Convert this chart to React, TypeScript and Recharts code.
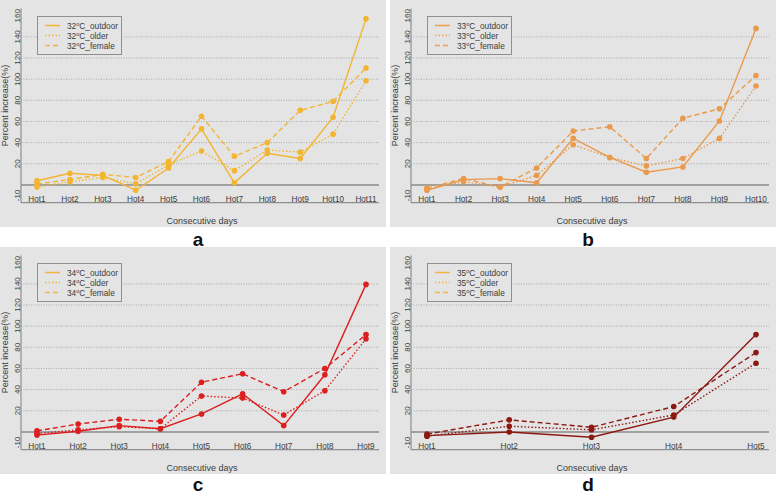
import React from 'react';
import { LineChart, Line, XAxis, YAxis, ReferenceLine, Legend } from 'recharts';

// ---------- data ----------
const daysA = ['Hot1', 'Hot2', 'Hot3', 'Hot4', 'Hot5', 'Hot6', 'Hot7', 'Hot8', 'Hot9', 'Hot10', 'Hot11'];
const outdoorA = [4, 11, 9, -5, 16, 53, 2, 30, 25, 64, 157];
const olderA = [-2, 3, 7, 1, 19, 32, 13.5, 33, 31, 48, 98.5];
const femaleA = [1, 5, 10, 7, 22, 65, 27, 40, 70.5, 79, 110.5];

const daysB = ['Hot1', 'Hot2', 'Hot3', 'Hot4', 'Hot5', 'Hot6', 'Hot7', 'Hot8', 'Hot9', 'Hot10'];
const outdoorB = [-5, 5, 6, 2, 44, 26, 12, 17, 60.5, 148];
const olderB = [-4, 3, -2, 9, 38, 26, 18, 25, 44, 93.5];
const femaleB = [-3, 6, -2, 16, 51, 55, 25, 63, 72, 103.5];

const daysC = ['Hot1', 'Hot2', 'Hot3', 'Hot4', 'Hot5', 'Hot6', 'Hot7', 'Hot8', 'Hot9'];
const outdoorC = [-3, 0.6, 6, 3, 17, 36, 6, 54, 139.5];
const olderC = [-1.5, 2, 5, 3, 34, 32, 16, 39, 88];
const femaleC = [1, 7.5, 12, 10, 47, 55, 38, 60, 92];

const daysD = ['Hot1', 'Hot2', 'Hot3', 'Hot4', 'Hot5'];
const outdoorD = [-3.5, 0, -5, 14, 92];
const olderD = [-4, 5.4, 2, 16, 65];
const femaleD = [-2, 11.4, 4.4, 24, 75];

const yTicks = [-10, 20, 40, 60, 80, 100, 120, 140, 160];
const gridValues = [20, 40, 60, 80, 100, 120, 140];
const yDomain = [-16.8, 166.8];
const seriesNames = ['outdoor', 'older', 'female'];
const xTitle = 'Consecutive days';
const yTitle = 'Percent increase(%)';

// ---------- styles ----------
const BG = '#e4e4e4';
const BOX = '#8f8f8f';
const TXT = '#3c3c3c';
const FONT = '"Liberation Sans", Arial, Helvetica, sans-serif';
const dashes: Record<string, string | undefined> = { outdoor: undefined, older: '1.5 2', female: '5 3' };

const PW = 386;
const PH = 227;

const XTick = (props: any) => {
  const { x, y, payload } = props;
  return (
    <text x={x} y={y - 0.5} textAnchor="middle" fontSize={8.2} fill={TXT} fontFamily={FONT}>
      {payload.value}
    </text>
  );
};

const YTick = (props: any) => {
  const { x, y, payload } = props;
  const bx = x - 0.5;
  return (
    <text x={bx} y={y} transform={`rotate(-90 ${bx} ${y})`} textAnchor="middle" fontSize={8} fill={TXT} fontFamily={FONT}>
      {payload.value}
    </text>
  );
};

const XTitle = (props: any) => {
  const vb = props.viewBox || { x: 21, y: 202.7, width: 358, height: 24.3 };
  return (
    <text x={vb.x + vb.width / 2 + 2} y={vb.y + 21.5} textAnchor="middle" fontSize={9} fill={TXT} fontFamily={FONT}>
      {xTitle}
    </text>
  );
};

const YTitle = (props: any) => {
  const vb = props.viewBox || { x: 0, y: 8.5, width: 21, height: 194.2 };
  const bx = vb.x + 8.5;
  const cy = vb.y + vb.height / 2;
  return (
    <text x={bx} y={cy} transform={`rotate(-90 ${bx} ${cy})`} textAnchor="middle" fontSize={9} fill={TXT} fontFamily={FONT}>
      {yTitle}
    </text>
  );
};

const LegendBox = ({ temp, color }: { temp: string; color: string }) => (
  <svg width={85} height={39} style={{ display: 'block' }}>
    <rect x={0.5} y={0.5} width={84} height={38} fill={BG} stroke={BOX} strokeWidth={1} />
    {seriesNames.map((s, i) => (
      <g key={s}>
        <line x1={8} x2={23} y1={9.5 + i * 10} y2={9.5 + i * 10} stroke={color} strokeWidth={1.5} strokeDasharray={dashes[s]} />
        <text x={30} y={12.5 + i * 10} fontSize={8.3} fill={TXT} fontFamily={FONT}>
          {temp}
          <tspan dy={-3} fontSize={5.5}>o</tspan>
          <tspan dy={3}>{'C_' + s}</tspan>
        </text>
      </g>
    ))}
  </svg>
);

type PanelProps = {
  days: string[];
  outdoor: number[];
  older: number[];
  female: number[];
  color: string;
  legendColor: string;
  temp: string;
  letter: string;
  left: number;
  top: number;
  letterBase: number;
};

const Panel = ({ days, outdoor, older, female, color, legendColor, temp, letter, left, top, letterBase }: PanelProps) => {
  const rows = days.map((d, i) => ({ day: d, outdoor: outdoor[i], older: older[i], female: female[i] }));
  const pad = { left: 16, right: 13 };
  return (
    <>
      <div style={{ position: 'absolute', left, top, width: PW, height: PH, background: BG }}>
        <LineChart width={PW} height={PH} data={rows} margin={{ top: 8.5, right: 7, bottom: 0, left: 0 }}>
          <XAxis
            dataKey="day"
            height={24.3}
            padding={pad}
            interval={0}
            axisLine={{ stroke: BOX, strokeWidth: 1.2 }}
            tickLine={false}
            tickSize={0}
            tickMargin={0}
            tick={<XTick />}
            label={(p: any) => <XTitle {...p} />}
          />
          <XAxis
            xAxisId="top"
            orientation="top"
            dataKey="day"
            height={0}
            padding={pad}
            axisLine={{ stroke: BOX, strokeWidth: 1.2 }}
            tick={false}
            tickLine={false}
          />
          <YAxis
            type="number"
            width={21}
            domain={yDomain}
            ticks={yTicks}
            allowDataOverflow
            interval={0}
            axisLine={{ stroke: BOX, strokeWidth: 1.2 }}
            tickLine={false}
            tickSize={0}
            tickMargin={0}
            tick={<YTick />}
            label={(p: any) => <YTitle {...p} />}
          />
          <YAxis
            yAxisId="right"
            orientation="right"
            type="number"
            width={0}
            domain={yDomain}
            allowDataOverflow
            axisLine={{ stroke: BOX, strokeWidth: 1.2 }}
            tick={false}
            tickLine={false}
          />
          {gridValues.map((v) => (
            <ReferenceLine key={v} y={v} stroke="#a9a9a9" strokeDasharray="1 1.5" strokeWidth={1} />
          ))}
          <ReferenceLine y={0} stroke="#8a8a8a" strokeWidth={1.4} />
          <Legend
            layout="vertical"
            align="center"
            verticalAlign="middle"
            content={() => <LegendBox temp={temp} color={legendColor} />}
            wrapperStyle={{ position: 'absolute', left: 37, top: 16, width: 85, height: 39 }}
          />
          {seriesNames.map((s) => (
            <Line
              key={s}
              dataKey={s}
              stroke={color}
              strokeWidth={1.4}
              strokeDasharray={dashes[s]}
              dot={{ r: 2.8, fill: color, stroke: 'none' }}
              activeDot={false}
              isAnimationActive={false}
            />
          ))}
        </LineChart>
      </div>
      <svg
        width={40}
        height={22}
        style={{ position: 'absolute', left: left + 178, top: letterBase - 17.5 }}
      >
        <text x={20} y={17.5} textAnchor="middle" fontFamily={FONT} fontWeight="bold" fontSize={19} fill="#111">
          {letter}
        </text>
      </svg>
    </>
  );
};

export default function App() {
  return (
    <div style={{ position: 'absolute', left: 0, top: 0, width: 778, height: 495, background: '#ffffff', overflow: 'hidden' }}>
      <Panel days={daysA} outdoor={outdoorA} older={olderA} female={femaleA} color="#F3B52F" legendColor="#F3B52F" temp="32" letter="a" left={0} top={0} letterBase={245} />
      <Panel days={daysB} outdoor={outdoorB} older={olderB} female={femaleB} color="#E99A4C" legendColor="#EDA049" temp="33" letter="b" left={390} top={0} letterBase={245} />
      <Panel days={daysC} outdoor={outdoorC} older={olderC} female={femaleC} color="#DC1E1E" legendColor="#F2B63A" temp="34" letter="c" left={0} top={247} letterBase={490.5} />
      <Panel days={daysD} outdoor={outdoorD} older={olderD} female={femaleD} color="#8C1812" legendColor="#F2B63A" temp="35" letter="d" left={390} top={247} letterBase={490.5} />
    </div>
  );
}
